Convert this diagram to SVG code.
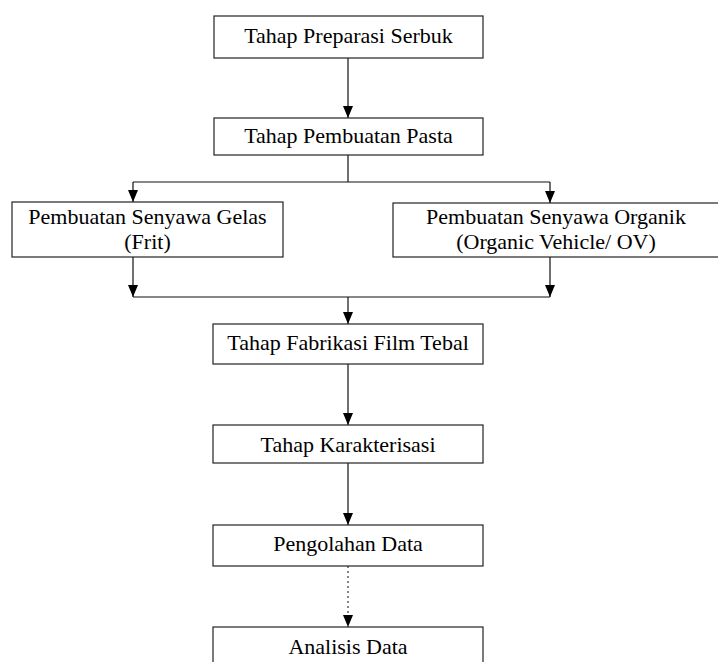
<svg xmlns="http://www.w3.org/2000/svg" width="718" height="662" viewBox="0 0 718 662">
<style>
.box{fill:#fff;stroke:#222;stroke-width:1.2}
.t{font-family:"Liberation Serif","Times New Roman",serif;font-size:22px;fill:#000;text-anchor:middle}
.c{fill:none;stroke:#111;stroke-width:1.2}
.d{fill:none;stroke:#333;stroke-width:1.2;stroke-dasharray:2,3}
.a{fill:#000}
</style>
<rect width="718" height="662" fill="#fff"/>
<g id="connectors">
<path class="c" d="M348,58 V118"/>
<path class="a" d="M343,106 L353,106 L348,118 Z"/>
<path class="c" d="M348,155 V182 M133,182 H550 M133,182 V202 M550,182 V203"/>
<path class="a" d="M128,190 L138,190 L133,202 Z"/>
<path class="a" d="M545,191 L555,191 L550,203 Z"/>
<path class="c" d="M133,257 V297 M550,257 V297 M133,297 H550 M348,297 V324"/>
<path class="a" d="M128,285 L138,285 L133,297 Z"/>
<path class="a" d="M545,285 L555,285 L550,297 Z"/>
<path class="a" d="M343,312 L353,312 L348,324 Z"/>
<path class="c" d="M348,364 V425"/>
<path class="a" d="M343,413 L353,413 L348,425 Z"/>
<path class="c" d="M348,463 V525"/>
<path class="a" d="M343,513 L353,513 L348,525 Z"/>
<path class="d" d="M348,566 V627"/>
<path class="a" d="M343,615 L353,615 L348,627 Z"/>
</g>
<g id="n1"><rect class="box" x="214" y="16" width="269" height="42"/><text class="t" x="348.5" y="43">Tahap Preparasi Serbuk</text></g>
<g id="n2"><rect class="box" x="214" y="118" width="269" height="37"/><text class="t" x="348.5" y="143">Tahap Pembuatan Pasta</text></g>
<g id="n3"><rect class="box" x="12" y="202" width="271" height="55"/><text class="t" x="147.5" y="224">Pembuatan Senyawa Gelas</text><text class="t" x="147.5" y="249">(Frit)</text></g>
<g id="n4"><rect class="box" x="393" y="203" width="330" height="54"/><text class="t" x="556" y="224">Pembuatan Senyawa Organik</text><text class="t" x="556" y="249">(Organic Vehicle/ OV)</text></g>
<g id="n5"><rect class="box" x="213" y="324" width="270" height="40"/><text class="t" x="348" y="350">Tahap Fabrikasi Film Tebal</text></g>
<g id="n6"><rect class="box" x="213" y="425" width="270" height="38"/><text class="t" x="348" y="452">Tahap Karakterisasi</text></g>
<g id="n7"><rect class="box" x="213" y="525" width="270" height="41"/><text class="t" x="348" y="551">Pengolahan Data</text></g>
<g id="n8"><rect class="box" x="213" y="627" width="270" height="45"/><text class="t" x="348" y="654">Analisis Data</text></g>
</svg>
